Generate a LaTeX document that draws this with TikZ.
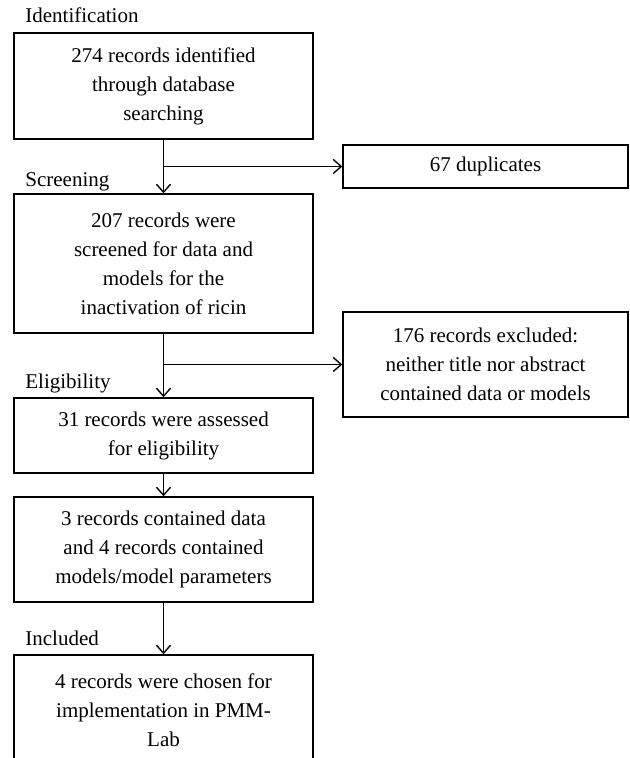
\documentclass[tikz,border=0pt]{standalone}
\usepackage{fontspec}
\setmainfont{Liberation Serif}
\usetikzlibrary{arrows.meta}

\begin{document}
\begin{tikzpicture}[x=0.5pt,y=-0.5pt,
		box/.style={draw, line width=0.7pt, align=center, inner sep=0pt, font=\fontsize{10.5}{14.5}\selectfont},
		stage/.style={anchor=base west, inner sep=0pt, font=\fontsize{10.5}{14.5}\selectfont},
		>={Straight Barb[length=4pt,width=7pt]}]
			\useasboundingbox (0,0) rectangle (629,758);
			% stage labels
			\node[stage] (lid) at (25,23) {Identification};
			\node[stage] (lscr) at (25,187) {Screening};
			\node[stage] (lelig) at (25,388) {Eligibility};
			\node[stage] (lincl) at (25,645) {Included};
			% main column
			\node[box, minimum width=149.5pt, minimum height=53pt] (ident) at (163.5,86) {274 records identified\\ through database\\ searching};
			\node[box, minimum width=149.5pt, minimum height=69.5pt] (screen) at (163.5,263.5) {207 records were\\ screened for data and\\ models for the\\ inactivation of ricin};
			\node[box, minimum width=149.5pt, minimum height=37.5pt] (elig) at (163.5,435.5) {31 records were assessed\\ for eligibility};
			\node[box, minimum width=149.5pt, minimum height=52.5pt] (found) at (163.5,549.5) {3 records contained data\\ and 4 records contained\\ models/model parameters};
			\node[box, minimum width=149.5pt, minimum height=55pt, text depth=0pt] (incl) at (163.5,710) {4 records were chosen for\\ implementation in PMM-\\ Lab};
			% side boxes
			\node[box, minimum width=142.5pt, minimum height=21.5pt] (dup) at (485.5,166.5) {67 duplicates};
			\node[box, minimum width=142.5pt, minimum height=52.5pt] (excl) at (485.5,364.5) {176 records excluded:\\ neither title nor abstract\\ contained data or models};
			% arrows
			\draw[->, line width=0.7pt] (ident) -- (screen);
			\draw[->, line width=0.7pt] (ident.south |- dup.west) -- (dup.west);
			\draw[->, line width=0.7pt] (screen) -- (elig);
			\draw[->, line width=0.7pt] (screen.south |- excl.west) -- (excl.west);
			\draw[->, line width=0.7pt] (elig) -- (found);
			\draw[->, line width=0.7pt] (found) -- (incl);
		\end{tikzpicture}
\end{document}
